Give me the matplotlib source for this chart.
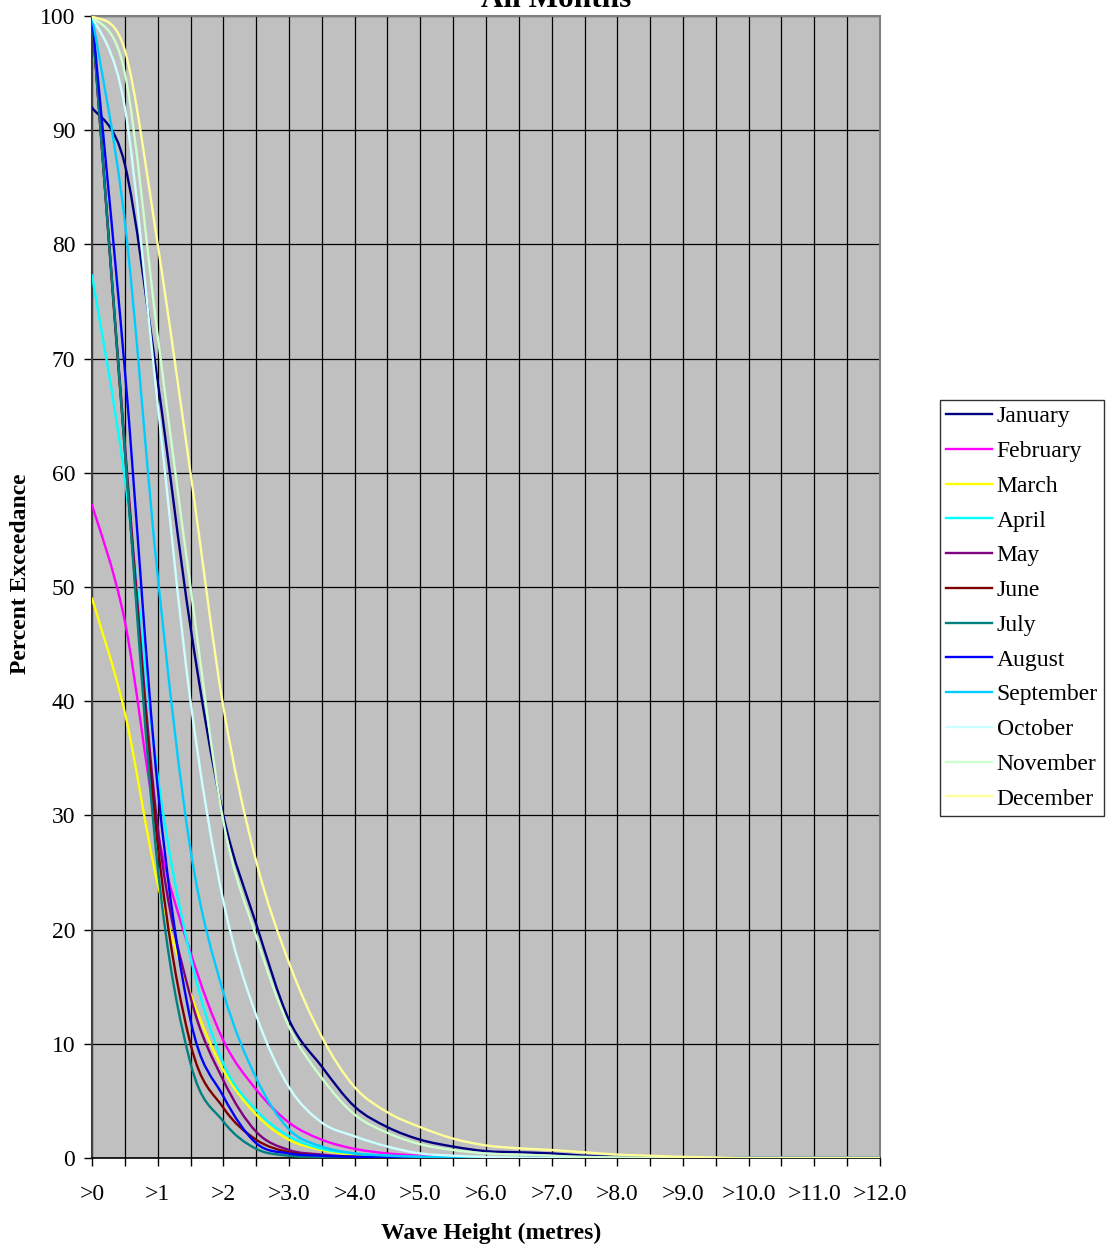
import matplotlib
matplotlib.use("Agg")
import matplotlib.pyplot as plt
import numpy as np
from matplotlib.path import Path
from matplotlib.patches import PathPatch
from matplotlib.lines import Line2D

# ---------------- data ----------------
categories = [">0", ">0.5", ">1", ">1.5", ">2", ">2.5", ">3.0", ">3.5", ">4.0", ">4.5",
              ">5.0", ">5.5", ">6.0", ">6.5", ">7.0", ">7.5", ">8.0", ">8.5", ">9.0",
              ">9.5", ">10.0", ">10.5", ">11.0", ">11.5", ">12.0"]

january   = [92, 87, 68, 46.5, 30, 20.5, 12.1, 8.0, 4.5, 2.7, 1.6, 1.0, 0.6, 0.5, 0.4, 0.2, 0.1, 0.05, 0, 0, 0, 0, 0, 0, 0]
february  = [57.2, 47, 28.5, 18, 10.3, 6.0, 3.1, 1.6, 0.8, 0.4, 0.2, 0.1, 0.05, 0, 0, 0, 0, 0, 0, 0, 0, 0, 0, 0, 0]
march     = [49, 39, 24, 14.4, 7.7, 3.8, 1.6, 0.7, 0.3, 0.15, 0.05, 0, 0, 0, 0, 0, 0, 0, 0, 0, 0, 0, 0, 0, 0]
april     = [77.3, 59.5, 33.5, 17.6, 8.3, 4.2, 1.9, 0.8, 0.4, 0.2, 0.1, 0.05, 0, 0, 0, 0, 0, 0, 0, 0, 0, 0, 0, 0, 0]
may       = [100, 62.5, 29, 14.1, 6.8, 2.3, 0.7, 0.3, 0.1, 0.05, 0, 0, 0, 0, 0, 0, 0, 0, 0, 0, 0, 0, 0, 0, 0]
june      = [100, 62, 27.5, 10.0, 4.4, 1.6, 0.5, 0.2, 0.1, 0.05, 0, 0, 0, 0, 0, 0, 0, 0, 0, 0, 0, 0, 0, 0, 0]
july      = [100, 62, 25.5, 8.3, 3.2, 0.8, 0.2, 0.1, 0.05, 0, 0, 0, 0, 0, 0, 0, 0, 0, 0, 0, 0, 0, 0, 0, 0]
august    = [100, 69, 32.5, 12.1, 5.4, 1.3, 0.4, 0.2, 0.1, 0.05, 0, 0, 0, 0, 0, 0, 0, 0, 0, 0, 0, 0, 0, 0, 0]
september = [100, 82, 51, 27, 14.5, 7.0, 2.5, 1.0, 0.4, 0.2, 0.1, 0.05, 0, 0, 0, 0, 0, 0, 0, 0, 0, 0, 0, 0, 0]
october   = [100, 92, 66, 40, 22.5, 12.5, 6.2, 3.1, 1.9, 1.0, 0.4, 0.2, 0.1, 0.05, 0, 0, 0, 0, 0, 0, 0, 0, 0, 0, 0]
november  = [100, 95, 72, 50, 29.5, 19.4, 11.5, 7.0, 3.8, 2.2, 1.2, 0.7, 0.4, 0.3, 0.2, 0.1, 0.05, 0, 0, 0, 0, 0, 0, 0, 0]
december  = [100, 97, 80, 60, 39.5, 26, 17.1, 10.6, 6.2, 4.0, 2.7, 1.7, 1.1, 0.85, 0.7, 0.5, 0.3, 0.2, 0.1, 0.05, 0, 0, 0, 0, 0]

series_names = ["January", "February", "March", "April", "May", "June", "July",
                "August", "September", "October", "November", "December"]
series_values = [january, february, march, april, may, june, july, august,
                 september, october, november, december]
series_colors = ["#000080", "#FF00FF", "#FFFF00", "#00FFFF", "#800080", "#800000",
                 "#008080", "#0000FF", "#00CCFF", "#CCFFFF", "#CCFFCC", "#FFFF99"]

yticks = [0, 10, 20, 30, 40, 50, 60, 70, 80, 90, 100]

# ---------------- figure ----------------
plt.rcParams['font.family'] = ['Liberation Serif', 'DejaVu Serif']
W, H = 1110, 1249
fig = plt.figure(figsize=(W / 100, H / 100), dpi=100)
fig.patch.set_facecolor("white")

ax = fig.add_axes([92 / W, 1 - 1158 / H, (880 - 92) / W, (1158 - 16) / H])
ax.set_facecolor("#C0C0C0")


def smooth_path(xs, ys):
    """Cubic Bezier (Catmull-Rom style) path through the data points."""
    pts = np.column_stack([xs, ys]).astype(float)
    n = len(pts)
    verts = [pts[0]]
    codes = [Path.MOVETO]
    for i in range(n - 1):
        p0 = pts[i - 1] if i > 0 else pts[i]
        p1 = pts[i]
        p2 = pts[i + 1]
        p3 = pts[i + 2] if i + 2 < n else pts[i + 1]
        c1 = p1 + (p2 - p0) / 6.0
        c2 = p2 - (p3 - p1) / 6.0
        verts += [c1, c2, p2]
        codes += [Path.CURVE4] * 3
    return Path(verts, codes)


xpos = np.arange(len(categories))
handles = []
for name, vals, col in zip(series_names, series_values, series_colors):
    patch = PathPatch(smooth_path(xpos, vals), facecolor="none", edgecolor=col,
                      lw=1.7, transform=ax.transData, zorder=3, clip_on=True,
                      capstyle="round", joinstyle="round")
    ax.add_patch(patch)
    handles.append(Line2D([0], [0], color=col, lw=1.7, label=name))

ax.set_xlim(0, len(categories) - 1)
ax.set_ylim(0, 100)

# gridlines
ax.set_xticks(xpos)
ax.set_xticklabels([c if i % 2 == 0 else "" for i, c in enumerate(categories)],
                   fontsize=17)
ax.set_yticks(yticks)
ax.set_yticklabels([str(v) for v in yticks], fontsize=17)
ax.grid(True, color="black", lw=0.9)
ax.set_axisbelow(True)

ax.tick_params(axis="x", direction="out", length=6, width=1, color="black", pad=13)
ax.tick_params(axis="y", direction="out", length=6, width=1, color="black", pad=6)

for side in ["top", "right"]:
    ax.spines[side].set_color("#808080")
    ax.spines[side].set_linewidth(1.5)
ax.spines["left"].set_color("#404040")
ax.spines["left"].set_linewidth(1.5)
ax.spines["bottom"].set_color("black")
ax.spines["bottom"].set_linewidth(1.2)

fig.text(491 / W, 1 - 1233 / H, "Wave Height (metres)", ha="center", va="center",
         fontsize=17, fontweight="bold")
fig.text(21 / W, 1 - 574 / H, "Percent Exceedance", ha="center", va="center",
         rotation=90, fontsize=17, fontweight="bold")

fig.text(556 / W, 1 - 7 / H, "All Months", ha="center", va="baseline",
         fontsize=22.5, fontweight="bold")

leg = fig.legend(handles=handles, loc="upper left",
                 bbox_to_anchor=(940 / W, 1 - 400 / H), fontsize=17,
                 frameon=True, fancybox=False, edgecolor="black",
                 handlelength=1.95, handletextpad=0.2, labelspacing=0.56,
                 borderpad=0.25, borderaxespad=0)
leg.get_frame().set_linewidth(1.0)

fig.savefig("out.png", dpi=100, facecolor="white")
